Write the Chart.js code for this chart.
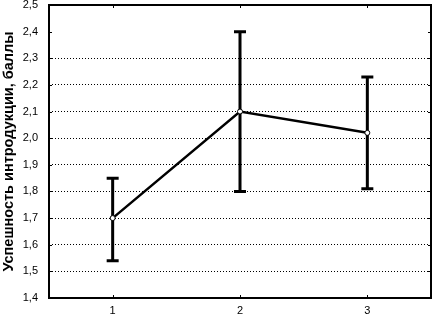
<!DOCTYPE html>
<html>
<head>
<meta charset="utf-8">
<script src="https://cdn.jsdelivr.net/npm/chart.js@4"></script>
<style>
  html, body { margin: 0; padding: 0; background: #fff; }
  #wrap { width: 432px; height: 318px; position: relative; }
</style>
</head>
<body>
<div id="wrap"><canvas id="chart"></canvas></div>
<script>
// Data
const groups     = [1, 2, 3];
const means      = [1.70, 2.10, 2.02];
const lowerBars  = [1.54, 1.80, 1.81];
const upperBars  = [1.85, 2.40, 2.23];

// Tick labels / grid values
const xTickValues = [1, 2, 3];
const yTickValues = [1.4, 1.5, 1.6, 1.7, 1.8, 1.9, 2.0, 2.1, 2.2, 2.3, 2.4, 2.5];
const yGridValues = [1.5, 1.6, 1.7, 1.8, 1.9, 2.0, 2.1, 2.2, 2.3];

// Partial dotted vertical guides visible in the reference
const guideX     = [2, 3];
const guideLow   = [1.5, 1.5];
const guideHigh  = [1.7, 2.38];

const yTitle = "Успешность интродукции, баллы";
const FONT = "'Liberation Sans', Arial, sans-serif";

const fmt = (v) => v.toFixed(1).replace(".", ",");

// ---- Error bars, drawn under the line and points ----
const errorBars = {
    id: "errorBars",
    beforeDatasetsDraw(chart) {
        const { ctx, scales: { x, y } } = chart;
        ctx.save();
        ctx.strokeStyle = "#000";
        ctx.lineWidth = 3;
        groups.forEach((g, i) => {
            const px = x.getPixelForValue(g);
            const lo = y.getPixelForValue(lowerBars[i]);
            const hi = y.getPixelForValue(upperBars[i]);
            ctx.beginPath();
            ctx.moveTo(px, lo); ctx.lineTo(px, hi);
            ctx.moveTo(px - 6, lo); ctx.lineTo(px + 6, lo);
            ctx.moveTo(px - 6, hi); ctx.lineTo(px + 6, hi);
            ctx.stroke();
        });
        ctx.restore();
    }
};

// ---- Box frame with small inward ticks on all four sides ----
const frame = {
    id: "frame",
    afterDraw(chart) {
        const { ctx, chartArea: a, scales: { x, y } } = chart;
        ctx.save();
        ctx.strokeStyle = "#000";
        ctx.lineWidth = 2;
        ctx.strokeRect(a.left, a.top, a.right - a.left, a.bottom - a.top);
        ctx.lineWidth = 1;
        ctx.beginPath();
        yTickValues.forEach((v) => {
            const py = Math.round(y.getPixelForValue(v)) + 0.5;
            ctx.moveTo(a.left, py); ctx.lineTo(a.left + 3, py);
            ctx.moveTo(a.right, py); ctx.lineTo(a.right - 3, py);
        });
        xTickValues.forEach((v) => {
            const px = Math.round(x.getPixelForValue(v)) + 0.5;
            ctx.moveTo(px, a.top); ctx.lineTo(px, a.top + 3);
            ctx.moveTo(px, a.bottom); ctx.lineTo(px, a.bottom - 3);
        });
        ctx.stroke();
        ctx.restore();
    }
};

const guideDatasets = guideX.map((gx, i) => ({
    data: [{ x: gx, y: guideLow[i] }, { x: gx, y: guideHigh[i] }],
    borderColor: "#000",
    borderWidth: 1,
    borderDash: [1, 2],
    pointRadius: 0,
    order: 2
}));

new Chart(document.getElementById("chart").getContext("2d"), {
    type: "scatter",
    data: {
        datasets: [
            {
                data: groups.map((g, i) => ({ x: g, y: means[i] })),
                showLine: true,
                borderColor: "#000",
                borderWidth: 2.5,
                pointRadius: 2.5,
                pointBackgroundColor: "#fff",
                pointBorderColor: "#000",
                pointBorderWidth: 1,
                order: 1
            },
            ...guideDatasets
        ]
    },
    options: {
        responsive: true,
        maintainAspectRatio: false,
        animation: false,
        // no auto padding for point overflow, the frame goes right to the edge
        layout: { autoPadding: false, padding: { top: 5, right: 1, left: 0, bottom: 0 } },
        plugins: {
            legend: { display: false },
            tooltip: { enabled: false }
        },
        scales: {
            x: {
                type: "linear",
                min: 0.5,
                max: 3.5,
                afterBuildTicks: (axis) => { axis.ticks = xTickValues.map((v) => ({ value: v })); },
                afterFit: (axis) => {
                    axis.height = 20;
                    axis.paddingLeft = 0;
                    axis.paddingRight = 0;
                },
                ticks: {
                    color: "#000",
                    padding: 6,
                    font: { family: FONT, size: 11 },
                    callback: (v) => String(v)
                },
                grid: { display: false, drawTicks: false },
                border: { display: false }
            },
            y: {
                min: 1.4,
                max: 2.5,
                afterBuildTicks: (axis) => { axis.ticks = yTickValues.map((v) => ({ value: v })); },
                afterFit: (axis) => {
                    axis.width = 49;
                    axis.paddingTop = 0;
                    axis.paddingBottom = 0;
                },
                ticks: {
                    color: "#000",
                    padding: 11,
                    font: { family: FONT, size: 11 },
                    callback: (v) => fmt(v)
                },
                grid: {
                    drawTicks: false,
                    lineWidth: 1,
                    color: (c) => {
                        const v = c.tick ? c.tick.value : null;
                        return v !== null && yGridValues.some((g) => Math.abs(g - v) < 1e-6) ? "#000" : "rgba(0,0,0,0)";
                    }
                },
                border: { display: false, dash: [1, 2] },
                title: {
                    display: true,
                    text: yTitle,
                    color: "#000",
                    padding: { top: 0, bottom: 0 },
                    font: { family: FONT, size: 14.5, weight: "bold" }
                }
            }
        }
    },
    plugins: [errorBars, frame]
});
</script>
</body>
</html>
